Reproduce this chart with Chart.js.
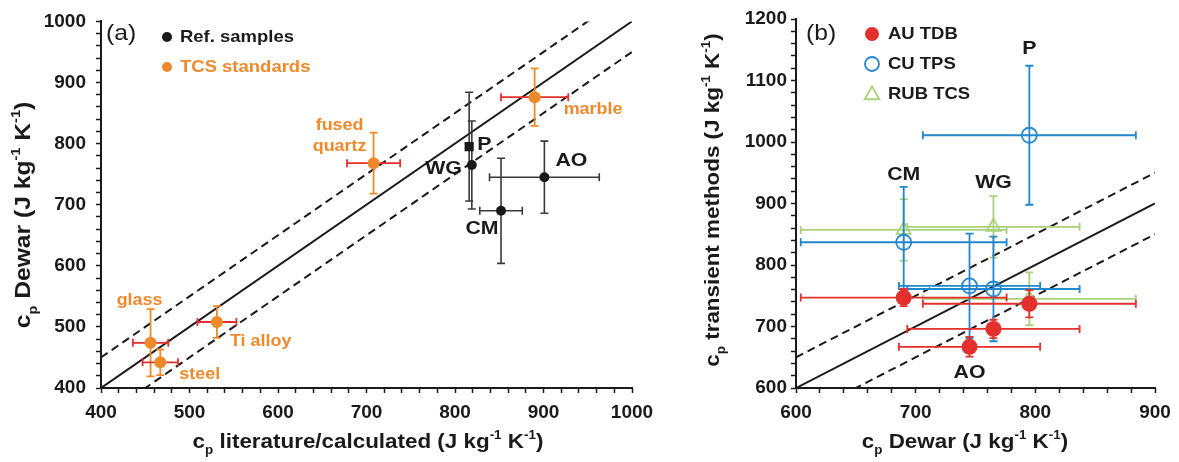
<!DOCTYPE html>
<html>
<head>
<meta charset="utf-8">
<script src="https://cdn.jsdelivr.net/npm/chart.js@4.4.1/dist/chart.umd.min.js"></script>
<style>
  html, body { margin: 0; padding: 0; background: #fff; }
  #ca { position: absolute; left: 0; top: 0; }
  #cb { position: absolute; left: 680px; top: 0; }
</style>
</head>
<body>
<canvas id="ca" width="680" height="462"></canvas>
<canvas id="cb" width="499" height="462"></canvas>
<script>
// ---- panel (a): Dewar vs literature ----
var refNames = ['P', 'WG', 'CM', 'AO'];
var refLit = [816, 819, 852, 901];
var refLitErr = [0, 0, 24, 62];
var refDewar = [795, 765, 690, 745];
var refDewarErr = [89, 72, 86, 59];

var tcsNames = ['fused quartz', 'marble', 'glass', 'steel', 'Ti alloy'];
var tcsLit = [708, 890, 456, 467, 531];
var tcsLitErr = [30, 38, 20, 20, 22];
var tcsDewar = [768, 876, 474, 442, 508];
var tcsDewarErr = [50, 47, 55, 21, 26];

// ---- panel (b): transient methods vs Dewar (same sample order as refNames) ----
var auTdb = [737, 696, 747, 667];
var auTdbErr = [22, 15, 14, 16];
var cuTps = [1011, 761, 837, 766];
var cuTpsErr = [113, 85, 90, 85];
var rubTcs = [745, 862, 857, null];
var rubTcsErr = [43, 50, 50, null];

// 1:1 line with +/-50 band
var rangeA = [400, 1000];
var rangeB = [600, 900];
var band = 50;

var FONT = "'Liberation Sans', Arial, sans-serif";
var BLACK = '#1a1a1a';
var ORANGE = '#ee8a2b';
var RED = '#e3302d';
var BLUE = '#2187cf';
var GREEN = '#a9d27a';
var SX = 1.12; // reference text is a bit wide

function points(xs, xe, ys, ye) {
    var out = [];
    for (var i = 0; i < xs.length; i++) {
        if (ys[i] == null) continue;
        out.push({ x: xs[i], y: ys[i], xerr: xe[i] || 0, yerr: ye[i] || 0 });
    }
    return out;
}

function diag(range, off) {
    return [{ x: range[0], y: range[0] + off }, { x: range[1], y: range[1] + off }];
}

function lineSet(range, off, dashed) {
    return {
        label: '', data: diag(range, off), showLine: true, pointRadius: 0,
        borderColor: BLACK, borderWidth: 2, borderDash: dashed ? [8, 5] : [],
        isLine: true
    };
}

// error bars go under each dataset's own markers
var errorBars = {
    id: 'errorBars',
    beforeDatasetDraw: function (chart, args) {
        var ds = chart.data.datasets[args.index];
        if (ds.isLine) return;
        var ctx = chart.ctx, sx = chart.scales.x, sy = chart.scales.y;
        var cap = 4;
        ctx.save();
        ctx.lineWidth = ds.errWidth || 1.8;
        ds.data.forEach(function (p) {
            var px = sx.getPixelForValue(p.x), py = sy.getPixelForValue(p.y);
            if (p.xerr) {
                var x0 = sx.getPixelForValue(p.x - p.xerr), x1 = sx.getPixelForValue(p.x + p.xerr);
                ctx.strokeStyle = ds.xErrColor;
                ctx.beginPath();
                ctx.moveTo(x0, py); ctx.lineTo(x1, py);
                ctx.moveTo(x0, py - cap); ctx.lineTo(x0, py + cap);
                ctx.moveTo(x1, py - cap); ctx.lineTo(x1, py + cap);
                ctx.stroke();
            }
            if (p.yerr) {
                var y0 = sy.getPixelForValue(p.y - p.yerr), y1 = sy.getPixelForValue(p.y + p.yerr);
                ctx.strokeStyle = ds.yErrColor;
                ctx.beginPath();
                ctx.moveTo(px, y0); ctx.lineTo(px, y1);
                ctx.moveTo(px - cap, y0); ctx.lineTo(px + cap, y0);
                ctx.moveTo(px - cap, y1); ctx.lineTo(px + cap, y1);
                ctx.stroke();
            }
        });
        ctx.restore();
    }
};

function richText(ctx, parts, cx, cy, rotate, size) {
    var big = 'bold ' + size + 'px ' + FONT;
    var small = 'bold ' + Math.round(size * 0.6) + 'px ' + FONT;
    ctx.save();
    ctx.translate(cx, cy);
    if (rotate) ctx.rotate(-Math.PI / 2);
    ctx.scale(SX, 1);
    var w = 0;
    parts.forEach(function (p) {
        ctx.font = p[1] ? small : big;
        p.w = ctx.measureText(p[0]).width;
        w += p.w;
    });
    var x = -w / 2;
    ctx.fillStyle = BLACK;
    ctx.textAlign = 'left';
    ctx.textBaseline = 'alphabetic';
    parts.forEach(function (p) {
        ctx.font = p[1] ? small : big;
        var dy = p[1] === 'sub' ? size * 0.3 : (p[1] === 'sup' ? -size * 0.45 : 0);
        ctx.fillText(p[0], x, size * 0.36 + dy);
        x += p.w;
    });
    ctx.restore();
}

function text(ctx, str, x, y, opt) {
    ctx.save();
    ctx.translate(x, y);
    ctx.scale(SX, 1);
    ctx.font = (opt.weight || 'bold') + ' ' + opt.size + 'px ' + FONT;
    ctx.fillStyle = opt.color || BLACK;
    ctx.textAlign = opt.align || 'left';
    ctx.textBaseline = 'middle';
    ctx.fillText(str, 0, 0);
    ctx.restore();
}

function unit(name) {
    return [['c'], ['p', 'sub'], [' ' + name + ' (J kg'], ['-1', 'sup'], [' K'], ['-1', 'sup'], [')']];
}

// point labels, legend, axis titles
function decoPlugin(cfg) {
    return {
        id: 'deco',
        afterDraw: function (chart) {
            var ctx = chart.ctx;
            cfg.labels.forEach(function (l) {
                var el = chart.getDatasetMeta(l.ds).data[l.i];
                l.lines.forEach(function (s, k) {
                    text(ctx, s, el.x + l.dx, el.y + l.dy + k * 21, { size: l.size, color: l.color, align: l.align });
                });
            });
            text(ctx, cfg.tag, cfg.tagX, 34, { weight: 'normal', size: 22 });
            cfg.legend.forEach(function (row, k) {
                var ds = chart.data.datasets[row];
                var y = cfg.legendY + k * 30;
                var r = cfg.legendR;
                ctx.save();
                ctx.fillStyle = ds.backgroundColor;
                ctx.strokeStyle = ds.borderColor;
                ctx.lineWidth = ds.pointBorderWidth || 1;
                ctx.beginPath();
                if (ds.pointStyle === 'triangle') {
                    ctx.moveTo(cfg.legendX, y - r * 1.1);
                    ctx.lineTo(cfg.legendX + r * 1.05, y + r * 0.75);
                    ctx.lineTo(cfg.legendX - r * 1.05, y + r * 0.75);
                    ctx.closePath();
                } else {
                    ctx.arc(cfg.legendX, y, r, 0, Math.PI * 2);
                }
                ctx.fill();
                if (ds.pointBorderWidth) ctx.stroke();
                ctx.restore();
                text(ctx, ds.label, cfg.legendX + cfg.legendGap, y, { size: 16.5, color: cfg.legendTextColor ? ds.borderColor : BLACK });
            });
            richText(ctx, cfg.xTitle, cfg.xTitleX, 441, false, 20);
            richText(ctx, cfg.yTitle, cfg.yTitleX, cfg.yTitleY, true, cfg.yTitleSize);
        }
    };
}

function axes(range, yRange, yWidth, yPad) {
    function common(r) {
        return {
            type: 'linear', min: r[0], max: r[1],
            border: { display: true, color: BLACK, width: 2 },
            grid: { display: true, drawOnChartArea: false, drawTicks: true, tickLength: 5, tickColor: BLACK, tickWidth: 1.5 },
            ticks: {
                stepSize: 20, autoSkip: false, maxRotation: 0, color: BLACK,
                font: { family: FONT, size: 19, weight: 'bold' },
                callback: function (v) { return v % 100 === 0 ? v : ''; }
            }
        };
    }
    var x = common(range), y = common(yRange);
    x.ticks.padding = 8;
    y.ticks.padding = yPad;
    x.afterFit = function (s) { s.height = 74; };
    y.afterFit = function (s) { s.width = yWidth; };
    return { x: x, y: y };
}

// ---- chart (a) ----
var dsA = [
    {
        label: 'Ref. samples', data: points(refLit, refLitErr, refDewar, refDewarErr),
        pointStyle: refNames.map(function (n) { return n === 'P' ? 'rect' : 'circle'; }),
        pointRadius: refNames.map(function (n) { return n === 'P' ? 6.5 : 5; }),
        backgroundColor: BLACK, borderColor: BLACK, pointBorderWidth: 0,
        xErrColor: '#3a3a3a', yErrColor: '#3a3a3a', errWidth: 1.6
    },
    {
        label: 'TCS standards', data: points(tcsLit, tcsLitErr, tcsDewar, tcsDewarErr),
        pointStyle: 'circle', pointRadius: 6, backgroundColor: ORANGE, borderColor: ORANGE, pointBorderWidth: 0,
        xErrColor: RED, yErrColor: ORANGE
    },
    lineSet(rangeA, 0, false),
    lineSet(rangeA, band, true),
    lineSet(rangeA, -band, true)
];

new Chart(document.getElementById('ca'), {
    type: 'scatter',
    data: { datasets: dsA },
    options: {
        responsive: false, animation: false,
        layout: { padding: { top: 17, right: 48, left: 0, bottom: 0 } },
        scales: axes(rangeA, rangeA, 101, 10),
        plugins: { legend: { display: false }, tooltip: { enabled: false } }
    },
    plugins: [errorBars, decoPlugin({
        tag: '(a)', tagX: 106,
        legend: [0, 1], legendX: 167, legendY: 37, legendR: 5, legendGap: 13, legendTextColor: true,
        xTitle: unit('literature/calculated'), xTitleX: 368,
        yTitle: unit('Dewar'), yTitleX: 22, yTitleY: 215, yTitleSize: 22,
        labels: [
            { ds: 1, i: 0, lines: ['fused', 'quartz'], dx: -34, dy: -38, size: 16, color: ORANGE, align: 'center' },
            { ds: 1, i: 1, lines: [tcsNames[1]], dx: 29, dy: 12, size: 16, color: ORANGE },
            { ds: 1, i: 2, lines: [tcsNames[2]], dx: -11, dy: -42, size: 16, color: ORANGE, align: 'center' },
            { ds: 1, i: 3, lines: [tcsNames[3]], dx: 19, dy: 12, size: 16, color: ORANGE },
            { ds: 1, i: 4, lines: [tcsNames[4]], dx: 13, dy: 20, size: 16, color: ORANGE },
            { ds: 0, i: 0, lines: [refNames[0]], dx: 8, dy: -2, size: 19 },
            { ds: 0, i: 1, lines: [refNames[1]], dx: -10, dy: 4, size: 19, align: 'right' },
            { ds: 0, i: 2, lines: [refNames[2]], dx: -19, dy: 18, size: 19, align: 'center' },
            { ds: 0, i: 3, lines: [refNames[3]], dx: 11, dy: -16, size: 19 }
        ]
    })]
});

// ---- chart (b) ----
var dsB = [
    {
        label: 'AU TDB', data: points(refDewar, refDewarErr, auTdb, auTdbErr),
        pointStyle: 'circle', pointRadius: 8, backgroundColor: RED, borderColor: RED, pointBorderWidth: 0,
        xErrColor: RED, yErrColor: RED
    },
    {
        label: 'CU TPS', data: points(refDewar, refDewarErr, cuTps, cuTpsErr),
        pointStyle: 'circle', pointRadius: 7.5, backgroundColor: 'rgba(255,255,255,0)', borderColor: BLUE, pointBorderWidth: 1.8,
        xErrColor: BLUE, yErrColor: BLUE
    },
    {
        label: 'RUB TCS', data: points(refDewar, refDewarErr, rubTcs, rubTcsErr),
        pointStyle: 'triangle', pointRadius: 8, backgroundColor: 'rgba(255,255,255,0)', borderColor: GREEN, pointBorderWidth: 1.8,
        xErrColor: GREEN, yErrColor: GREEN
    },
    lineSet(rangeB, 0, false),
    lineSet(rangeB, band, true),
    lineSet(rangeB, -band, true)
];

new Chart(document.getElementById('cb'), {
    type: 'scatter',
    data: { datasets: dsB },
    options: {
        responsive: false, animation: false,
        layout: { padding: { top: 19, right: 24, left: 0, bottom: 0 } },
        scales: axes(rangeB, [600, 1200], 116, 4),
        plugins: { legend: { display: false }, tooltip: { enabled: false } }
    },
    plugins: [errorBars, decoPlugin({
        tag: '(b)', tagX: 126,
        legend: [0, 1, 2], legendX: 192, legendY: 34, legendR: 7, legendGap: 16,
        xTitle: unit('Dewar'), xTitleX: 285,
        yTitle: unit('transient methods'), yTitleX: 32, yTitleY: 200, yTitleSize: 20,
        labels: [
            { ds: 1, i: 0, lines: [refNames[0]], dx: 0, dy: -86, size: 19, align: 'center' },
            { ds: 1, i: 2, lines: [refNames[2]], dx: 0, dy: -67, size: 19, align: 'center' },
            { ds: 2, i: 1, lines: [refNames[1]], dx: 0, dy: -44, size: 19, align: 'center' },
            { ds: 0, i: 3, lines: [refNames[3]], dx: 0, dy: 26, size: 19, align: 'center' }
        ]
    })]
});
</script>
</body>
</html>
